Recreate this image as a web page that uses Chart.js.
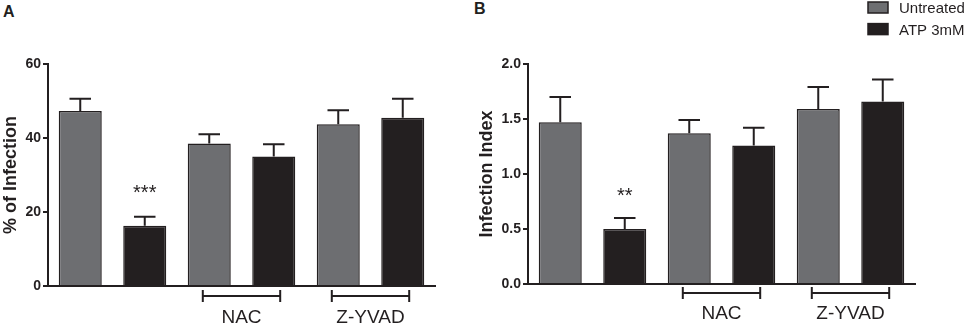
<!DOCTYPE html>
<html lang="en">
  <head>
    <meta charset="UTF-8" />
    <title>Infection after ATP treatment</title>
    <script src="https://cdn.jsdelivr.net/npm/chart.js"></script>
    <style>
      body {
        margin: 0;
        background: #fff;
        width: 965px;
        height: 326px;
        position: relative;
        overflow: hidden;
        font-family: "Liberation Sans", Arial, sans-serif;
        color: #231f20;
      }
      canvas { position: absolute; top: 0; }
      #chartA { left: 0; }
      #chartB { left: 476px; }
      .panel { position: absolute; font-weight: bold; font-size: 16px; line-height: 18px; }
    </style>
  </head>
  <body>
    <div class="panel" style="left: 3px; top: 3px">A</div>
    <div class="panel" style="left: 474px; top: 0px">B</div>
    <canvas id="chartA" width="476" height="326"></canvas>
    <canvas id="chartB" width="489" height="326"></canvas>

    <script>
      // values
      const groups = ["", "NAC", "Z-YVAD"];
      const seriesNames = ["Untreated", "ATP 3mM"];

      const infectUntreated = [47.3, 38.5, 43.7];
      const infectUntreatedErr = [3.3, 2.5, 3.8];
      const infectAtp = [16.3, 35.0, 45.5];
      const infectAtpErr = [2.4, 3.3, 5.1];
      const infectAtpSig = ["***", "", ""];
      const infectTicks = [0, 20, 40, 60];

      const indexUntreated = [1.47, 1.37, 1.59];
      const indexUntreatedErr = [0.23, 0.12, 0.2];
      const indexAtp = [0.5, 1.26, 1.66];
      const indexAtpErr = [0.1, 0.16, 0.2];
      const indexAtpSig = ["**", "", ""];
      const indexTicks = [0, 0.5, 1, 1.5, 2];

      const grey = "#6d6e71";
      const ink = "#231f20";
      const fontFamily = '"Liberation Sans", Arial, sans-serif';
      Chart.defaults.font.family = fontFamily;

      // error bars, significance stars, group brackets, legend
      const extras = {
        id: "extras",
        afterDatasetsDraw(chart, args, opts) {
          const ctx = chart.ctx;
          const yScale = chart.scales.y;
          const xScale = chart.scales.x;
          ctx.save();
          ctx.strokeStyle = ink;
          ctx.fillStyle = ink;
          ctx.lineWidth = 2;

          chart.data.datasets.forEach((ds, i) => {
            chart.getDatasetMeta(i).data.forEach((bar, j) => {
              const top = yScale.getPixelForValue(ds.data[j] + ds.err[j]);
              const half = bar.width / 4;
              ctx.beginPath();
              ctx.moveTo(bar.x, bar.y);
              ctx.lineTo(bar.x, top);
              ctx.moveTo(bar.x - half, top);
              ctx.lineTo(bar.x + half, top);
              ctx.stroke();
              if (ds.sig && ds.sig[j]) {
                ctx.font = "20px " + fontFamily;
                ctx.textAlign = "center";
                ctx.textBaseline = "alphabetic";
                ctx.fillText(ds.sig[j], bar.x, top - opts.starGap);
              }
            });
          });

          const catW = xScale.width / chart.data.labels.length;
          const by = chart.chartArea.bottom + opts.bracketGap;
          chart.data.labels.forEach((lab, j) => {
            if (!lab) return;
            const cx = xScale.getPixelForValue(j);
            const l = cx - catW * 0.3;
            const r = cx + catW * 0.3;
            ctx.beginPath();
            ctx.moveTo(l, by);
            ctx.lineTo(r, by);
            ctx.moveTo(l, by - 6);
            ctx.lineTo(l, by + 6);
            ctx.moveTo(r, by - 6);
            ctx.lineTo(r, by + 6);
            ctx.stroke();
          });

          if (opts.legend) {
            ctx.font = "15px " + fontFamily;
            ctx.textAlign = "left";
            ctx.textBaseline = "alphabetic";
            ctx.lineWidth = 1.5;
            chart.data.datasets.forEach((ds, i) => {
              const y0 = opts.legend.y + i * 21.6;
              ctx.fillStyle = ds.backgroundColor;
              ctx.fillRect(opts.legend.x, y0, 20, 11);
              ctx.strokeRect(opts.legend.x, y0, 20, 11);
              ctx.fillStyle = ink;
              ctx.fillText(ds.label, opts.legend.x + 31, y0 + 11);
            });
          }
          ctx.restore();
        },
      };

      function makeChart(id, cfg) {
        return new Chart(document.getElementById(id), {
          type: "bar",
          data: {
            labels: groups,
            datasets: [
              {
                label: seriesNames[0],
                data: cfg.untreated,
                err: cfg.untreatedErr,
                backgroundColor: grey,
              },
              {
                label: seriesNames[1],
                data: cfg.atp,
                err: cfg.atpErr,
                sig: cfg.sig,
                backgroundColor: ink,
              },
            ],
          },
          options: {
            responsive: false,
            animation: false,
            events: [],
            layout: { padding: { top: cfg.top, right: cfg.right, left: 0, bottom: 0 } },
            datasets: {
              bar: {
                categoryPercentage: 1,
                barPercentage: 0.667,
                borderWidth: 1.5,
                borderColor: ink,
              },
            },
            plugins: {
              legend: { display: false },
              tooltip: { enabled: false },
              extras: {
                starGap: cfg.starGap,
                bracketGap: cfg.bracketGap,
                legend: cfg.legend,
              },
            },
            scales: {
              x: {
                grid: { display: false, drawTicks: false },
                border: { display: true, color: ink, width: 2 },
                ticks: { color: ink, font: { size: 19 }, padding: cfg.labelPad },
                afterFit: (s) => {
                  s.height = cfg.xHeight;
                },
              },
              y: {
                min: 0,
                max: cfg.ticks[cfg.ticks.length - 1],
                grid: {
                  drawOnChartArea: false,
                  drawTicks: true,
                  tickLength: 5,
                  color: ink,
                  lineWidth: 2,
                },
                border: { display: true, color: ink, width: 2 },
                ticks: {
                  color: ink,
                  font: { size: 14, weight: "bold" },
                  padding: 2,
                  callback: cfg.fmt,
                },
                afterBuildTicks: (s) => {
                  s.ticks = cfg.ticks.map((v) => ({ value: v }));
                },
                title: {
                  display: true,
                  text: cfg.title,
                  color: ink,
                  font: { size: 18, weight: "bold" },
                  padding: 0,
                },
                afterFit: (s) => {
                  s.width = cfg.yWidth;
                },
              },
            },
          },
          plugins: [extras],
        });
      }

      makeChart("chartA", {
        untreated: infectUntreated,
        untreatedErr: infectUntreatedErr,
        atp: infectAtp,
        atpErr: infectAtpErr,
        sig: infectAtpSig,
        ticks: infectTicks,
        fmt: (v) => String(v),
        title: "% of Infection",
        top: 64,
        right: 41,
        yWidth: 48,
        xHeight: 40,
        labelPad: 20,
        starGap: 18,
        bracketGap: 10,
      });

      makeChart("chartB", {
        untreated: indexUntreated,
        untreatedErr: indexUntreatedErr,
        atp: indexAtp,
        atpErr: indexAtpErr,
        sig: indexAtpSig,
        ticks: indexTicks,
        fmt: (v) => Number(v).toFixed(1),
        title: "Infection Index",
        top: 64,
        right: 50,
        yWidth: 52,
        xHeight: 42,
        labelPad: 18,
        starGap: 16,
        bracketGap: 9,
        legend: { x: 392, y: 2 },
      });
    </script>
  </body>
</html>
